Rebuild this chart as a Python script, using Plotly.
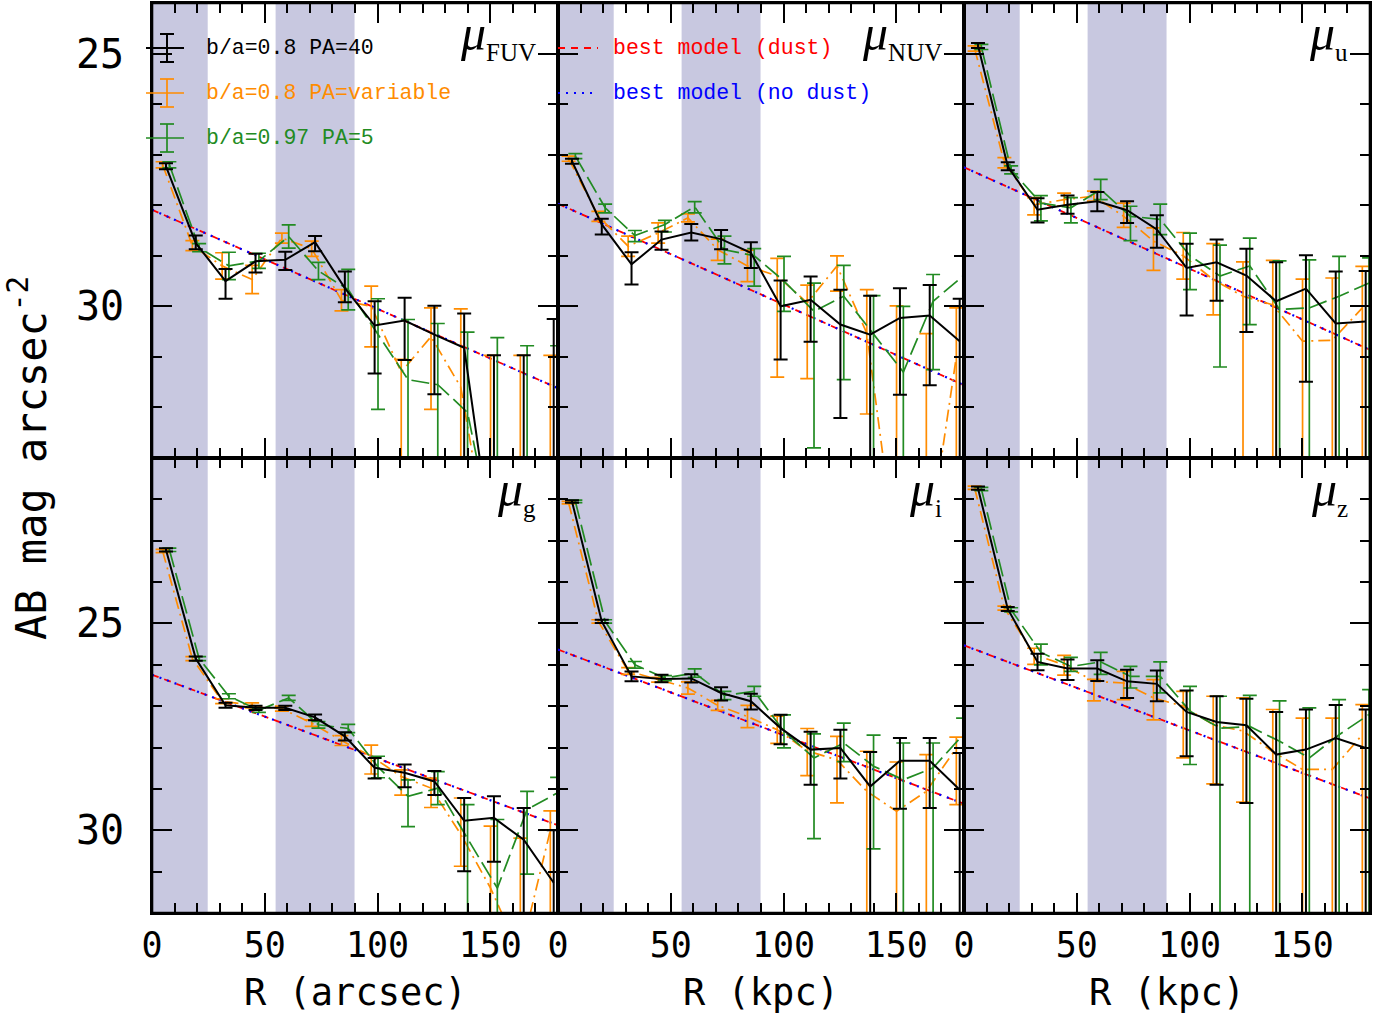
import plotly.graph_objects as go
from plotly.subplots import make_subplots

# ---------------- data ----------------
R = [6.2, 19.4, 32.6, 45.9, 59.1, 72.3, 85.5, 98.7, 112.0, 125.2, 138.4, 151.6, 164.8, 178.1]
R_OFFSET_VAR = -1.5   # orange profile points are plotted slightly left
R_OFFSET_097 = 1.5    # green profile points are plotted slightly right
MODEL_R = [0, 180]
SHADE_R = [[0, 24.7], [54.8, 89.8]]

series_names = ["b/a=0.8 PA=40", "b/a=0.8 PA=variable", "b/a=0.97 PA=5"]
model_names = ["best model (dust)", "best model (no dust)"]
bands = ["FUV", "NUV", "u", "g", "i", "z"]
x_titles = ["R (arcsec)", "R (kpc)", "R (kpc)"]
y_title = "AB mag arcsec<sup>-2</sup>"
x_tickvals = [0, 50, 100, 150]
y_tickvals = [25, 30]

# a = b/a=0.8 PA=40 (black), b = b/a=0.8 PA=variable (orange), c = b/a=0.97 PA=5 (green)
# *_up : error towards brighter values, *_dn : error towards fainter values
fuv_a = [27.23, 28.75, 29.50, 29.11, 29.08, 28.73, 29.64, 30.38, 30.28, 30.56, 30.82, 35.0, 35.0, 35.0]
fuv_a_up = [0.06, 0.15, 0.24, 0.15, 0.16, 0.12, 0.33, 0.48, 0.45, 0.57, 0.68, 4.03, 4.03, 4.75]
fuv_a_dn = [0.06, 0.12, 0.35, 0.22, 0.20, 0.18, 0.28, 0.95, 0.78, 1.18, 9.0, 0.0, 0.0, 0.0]
fuv_b = [27.20, 28.80, 29.20, 29.47, 28.65, 28.86, 29.88, 30.00, 31.30, 30.60, 31.60, 35.0, 35.0, 35.0]
fuv_b_up = [0.06, 0.10, 0.26, 0.28, 0.10, 0.15, 0.21, 0.40, 0.25, 0.57, 1.55, 4.03, 4.03, 4.03]
fuv_b_dn = [0.06, 0.10, 0.26, 0.28, 0.10, 0.15, 0.21, 0.80, 9.0, 1.44, 9.0, 0.0, 0.0, 0.0]
fuv_c = [27.20, 28.84, 29.20, 29.10, 28.62, 29.30, 29.67, 30.55, 31.45, 31.55, 32.10, 35.0, 35.0, 35.0]
fuv_c_up = [0.06, 0.08, 0.27, 0.15, 0.23, 0.17, 0.40, 0.70, 1.19, 1.21, 1.59, 4.38, 4.22, 4.22]
fuv_c_dn = [0.06, 0.08, 0.27, 0.15, 0.23, 0.17, 0.40, 1.49, 9.0, 9.0, 9.0, 0.0, 0.0, 0.0]
fuv_dust = [28.09, 31.62]
fuv_nodust = [28.09, 31.62]

nuv_a = [27.13, 28.38, 29.17, 28.68, 28.54, 28.67, 28.94, 30.00, 29.87, 30.36, 30.56, 30.23, 30.18, 30.69]
nuv_a_up = [0.05, 0.11, 0.24, 0.16, 0.17, 0.18, 0.21, 0.51, 0.46, 0.69, 0.77, 0.59, 0.60, 0.84]
nuv_a_dn = [0.05, 0.20, 0.40, 0.20, 0.16, 0.20, 0.30, 1.05, 0.83, 1.85, 9.0, 1.52, 1.38, 9.0]
nuv_b = [27.08, 28.22, 28.81, 28.55, 28.25, 28.88, 29.20, 29.40, 29.93, 29.20, 30.53, 35.0, 35.0, 31.00]
nuv_b_up = [0.05, 0.10, 0.20, 0.20, 0.08, 0.21, 0.31, 0.35, 0.35, 0.20, 0.86, 5.01, 4.46, 0.97]
nuv_b_dn = [0.05, 0.10, 0.20, 0.20, 0.08, 0.21, 0.31, 2.00, 1.50, 0.50, 1.60, 0.0, 0.0, 9.0]
nuv_c = [27.03, 28.05, 28.60, 28.38, 28.03, 28.88, 29.00, 29.50, 30.10, 29.80, 30.55, 31.30, 29.90, 29.40]
nuv_c_up = [0.05, 0.07, 0.10, 0.08, 0.10, 0.27, 0.14, 0.49, 0.56, 0.61, 0.76, 1.30, 0.53, 0.40]
nuv_c_dn = [0.05, 0.10, 0.12, 0.15, 0.12, 0.28, 0.60, 0.60, 2.70, 1.65, 9.0, 9.0, 1.35, 9.0]
nuv_dust = [27.97, 31.56]
nuv_nodust = [27.97, 31.56]

u_a = [24.84, 27.23, 28.09, 27.99, 27.92, 28.10, 28.48, 29.24, 29.13, 29.39, 29.90, 29.65, 30.34, 30.30]
u_a_up = [0.05, 0.08, 0.23, 0.18, 0.18, 0.18, 0.28, 0.48, 0.45, 0.53, 0.77, 0.66, 1.03, 1.00]
u_a_dn = [0.05, 0.08, 0.25, 0.18, 0.20, 0.25, 0.36, 0.94, 0.76, 1.12, 9.0, 1.84, 9.0, 9.0]
u_b = [24.90, 27.16, 27.99, 27.89, 27.82, 28.22, 28.71, 29.00, 29.47, 29.80, 29.97, 30.69, 30.67, 30.03]
u_b_up = [0.05, 0.10, 0.14, 0.13, 0.10, 0.26, 0.26, 0.46, 0.71, 0.68, 0.88, 1.23, 1.23, 0.82]
u_b_dn = [0.05, 0.10, 0.20, 0.12, 0.10, 0.22, 0.58, 0.46, 0.70, 9.0, 9.0, 9.0, 9.0, 9.0]
u_c = [24.87, 27.30, 27.96, 28.05, 27.69, 28.22, 28.28, 29.00, 29.40, 29.20, 30.06, 30.03, 29.80, 29.54]
u_c_up = [0.05, 0.08, 0.15, 0.20, 0.20, 0.20, 0.30, 0.45, 0.61, 0.55, 0.96, 0.95, 0.79, 0.50]
u_c_dn = [0.05, 0.08, 0.35, 0.30, 0.20, 0.48, 0.30, 0.67, 1.80, 1.16, 9.0, 9.0, 9.0, 9.0]
u_dust = [27.25, 30.86]
u_nodust = [27.25, 30.86]

g_a = [23.22, 25.85, 26.98, 27.04, 27.04, 27.27, 27.73, 28.49, 28.61, 28.82, 29.77, 29.70, 30.23, 31.27]
g_a_up = [0.04, 0.05, 0.06, 0.05, 0.05, 0.07, 0.10, 0.24, 0.20, 0.25, 0.55, 0.52, 0.77, 1.27]
g_a_dn = [0.04, 0.05, 0.06, 0.05, 0.05, 0.07, 0.10, 0.26, 0.35, 0.33, 1.22, 1.06, 9.0, 9.0]
g_b = [23.25, 25.85, 26.88, 26.98, 27.06, 27.41, 27.83, 28.21, 28.70, 28.98, 30.10, 31.40, 33.00, 30.00]
g_b_up = [0.04, 0.05, 0.06, 0.06, 0.06, 0.08, 0.12, 0.27, 0.16, 0.24, 0.88, 1.50, 2.81, 0.47]
g_b_dn = [0.04, 0.05, 0.06, 0.06, 0.06, 0.08, 0.12, 0.43, 0.45, 0.47, 0.77, 9.0, 0.0, 9.0]
g_c = [23.22, 25.85, 26.76, 27.10, 26.80, 27.45, 27.54, 28.47, 29.18, 28.98, 30.20, 31.40, 29.50, 29.10]
g_c_up = [0.04, 0.05, 0.06, 0.05, 0.06, 0.08, 0.10, 0.26, 0.40, 0.40, 0.82, 1.66, 0.44, 0.38]
g_c_dn = [0.04, 0.05, 0.06, 0.05, 0.06, 0.08, 0.10, 0.26, 0.73, 0.40, 9.0, 9.0, 1.56, 9.0]
g_dust = [26.24, 29.88]
g_nodust = [26.24, 29.88]

i_a = [22.05, 24.95, 26.28, 26.34, 26.33, 26.68, 26.88, 27.53, 28.05, 28.01, 28.94, 28.32, 28.32, 29.02]
i_a_up = [0.03, 0.04, 0.12, 0.10, 0.10, 0.14, 0.18, 0.32, 0.43, 0.44, 0.83, 0.55, 0.55, 0.89]
i_a_dn = [0.03, 0.04, 0.12, 0.08, 0.10, 0.18, 0.20, 0.39, 0.85, 0.74, 9.0, 1.16, 1.14, 9.0]
i_b = [22.08, 24.95, 26.15, 26.36, 26.56, 26.98, 27.25, 27.57, 28.08, 28.30, 29.06, 29.54, 29.06, 28.01]
i_b_up = [0.03, 0.04, 0.08, 0.06, 0.15, 0.12, 0.27, 0.33, 0.54, 0.57, 0.97, 1.19, 0.89, 0.26]
i_b_dn = [0.03, 0.04, 0.08, 0.06, 0.15, 0.12, 0.27, 0.33, 0.60, 1.04, 9.0, 9.0, 9.0, 1.37]
i_c = [22.05, 24.95, 26.00, 26.32, 26.20, 26.74, 26.64, 27.61, 28.25, 27.89, 28.45, 28.78, 28.49, 27.69]
i_c_up = [0.03, 0.04, 0.08, 0.06, 0.10, 0.10, 0.12, 0.40, 0.58, 0.48, 0.75, 0.89, 0.60, 0.40]
i_c_dn = [0.03, 0.04, 0.08, 0.06, 0.10, 0.10, 0.12, 0.40, 1.95, 0.45, 2.00, 9.0, 9.0, 9.0]
i_dust = [25.63, 29.36]
i_nodust = [25.63, 29.36]

z_a = [21.73, 24.65, 25.93, 26.09, 26.09, 26.40, 26.46, 27.14, 27.38, 27.46, 28.17, 28.05, 27.77, 28.01]
z_a_up = [0.04, 0.05, 0.20, 0.22, 0.20, 0.28, 0.32, 0.52, 0.62, 0.64, 1.03, 0.97, 0.80, 0.93]
z_a_dn = [0.04, 0.05, 0.20, 0.28, 0.30, 0.40, 0.42, 1.07, 1.52, 1.88, 9.0, 9.0, 9.0, 9.0]
z_b = [21.72, 24.63, 25.75, 26.00, 26.40, 26.44, 26.80, 27.00, 27.45, 27.60, 28.10, 28.53, 28.53, 27.69]
z_b_up = [0.04, 0.05, 0.15, 0.23, 0.05, 0.28, 0.44, 0.36, 0.69, 0.80, 1.02, 1.24, 1.24, 0.73]
z_b_dn = [0.04, 0.05, 0.24, 0.25, 0.47, 0.40, 0.53, 1.25, 1.43, 1.72, 9.0, 9.0, 9.0, 9.0]
z_c = [21.75, 24.67, 25.70, 26.04, 25.93, 26.28, 26.28, 27.12, 27.53, 27.49, 27.85, 28.25, 27.69, 27.20]
z_c_up = [0.04, 0.05, 0.20, 0.22, 0.23, 0.24, 0.35, 0.60, 0.77, 0.75, 0.98, 1.21, 0.85, 0.60]
z_c_dn = [0.04, 0.05, 0.30, 0.12, 0.30, 0.28, 0.40, 1.29, 9.0, 9.0, 9.0, 9.0, 9.0, 9.0]
z_dust = [25.53, 29.23]
z_nodust = [25.53, 29.23]

Y_RANGE_TOP = [33, 24]
Y_RANGE_BOTTOM = [32, 21]

# ---------------- styling ----------------
BLACK = "black"
ORANGE = "rgb(255,140,0)"
GREEN = "rgb(34,139,34)"
SHADE = "rgb(200,200,224)"
MONO = "DejaVu Sans Mono"
LEG_FONT = "Liberation Mono"

W, H = 1392, 1021
ML, MR, MT, MB = 152, 22, 3, 108
PW = (W - ML - MR) / 3.0
PH = (H - MT - MB) / 2.0

panels = [
    (1, 1, bands[0], (fuv_a, fuv_a_up, fuv_a_dn), (fuv_b, fuv_b_up, fuv_b_dn), (fuv_c, fuv_c_up, fuv_c_dn), fuv_dust, fuv_nodust),
    (1, 2, bands[1], (nuv_a, nuv_a_up, nuv_a_dn), (nuv_b, nuv_b_up, nuv_b_dn), (nuv_c, nuv_c_up, nuv_c_dn), nuv_dust, nuv_nodust),
    (1, 3, bands[2], (u_a, u_a_up, u_a_dn), (u_b, u_b_up, u_b_dn), (u_c, u_c_up, u_c_dn), u_dust, u_nodust),
    (2, 1, bands[3], (g_a, g_a_up, g_a_dn), (g_b, g_b_up, g_b_dn), (g_c, g_c_up, g_c_dn), g_dust, g_nodust),
    (2, 2, bands[4], (i_a, i_a_up, i_a_dn), (i_b, i_b_up, i_b_dn), (i_c, i_c_up, i_c_dn), i_dust, i_nodust),
    (2, 3, bands[5], (z_a, z_a_up, z_a_dn), (z_b, z_b_up, z_b_dn), (z_c, z_c_up, z_c_dn), z_dust, z_nodust),
]

fig = make_subplots(rows=2, cols=3, horizontal_spacing=0, vertical_spacing=0)


def axis_ids(row, col):
    k = (row - 1) * 3 + col
    s = "" if k == 1 else str(k)
    return "x" + s, "y" + s


def dom_x(px):
    return px / PW


def dom_y(py):
    return 1 - py / PH


shapes = []
annotations = []

DASH_RED = "7px,6px"
DASH_BLUE = "2px,6px"
DASH_ORANGE = "12px,5px,2px,5px"
DASH_GREEN = "18px,6px"

for row, col, band, sa, sb, sc, mdust, mnodust in panels:
    xr, yr = axis_ids(row, col)
    for x0, x1 in SHADE_R:
        shapes.append(dict(type="rect", xref=xr, yref=yr + " domain", x0=x0, x1=x1, y0=0, y1=1,
                           fillcolor=SHADE, line=dict(width=0), layer="below"))
    fig.add_trace(go.Scatter(x=MODEL_R, y=mdust, mode="lines", line=dict(color="red", width=1.8, dash=DASH_RED),
                             name=model_names[0]), row=row, col=col)
    fig.add_trace(go.Scatter(x=MODEL_R, y=mnodust, mode="lines", line=dict(color="blue", width=2.2, dash=DASH_BLUE),
                             name=model_names[1]), row=row, col=col)
    for (vals, up, dn), color, dash, off, width, name in [
        (sb, ORANGE, DASH_ORANGE, R_OFFSET_VAR, 1.7, series_names[1]),
        (sc, GREEN, DASH_GREEN, R_OFFSET_097, 1.7, series_names[2]),
        (sa, BLACK, "solid", 0.0, 2.0, series_names[0]),
    ]:
        fig.add_trace(go.Scatter(
            x=[r + off for r in R], y=vals, mode="lines", name=name,
            line=dict(color=color, width=width, dash=dash),
            error_y=dict(type="data", symmetric=False, array=dn, arrayminus=up,
                         color=color, thickness=width, width=7),
        ), row=row, col=col)

    ytop = 0 if row == 1 else 1
    annotations.append(dict(
        xref=xr + " domain", yref=yr + " domain", x=dom_x(PW - 20), y=dom_y(ytop),
        xanchor="right", yanchor="top", showarrow=False,
        text="<i>\u03bc</i><sub><span style='font-size:25px'>%s</span></sub>" % band,
        font=dict(family="Liberation Serif", size=50, color="black"),
    ))

for row in (1, 2):
    for col in (1, 2, 3):
        fig.update_xaxes(
            row=row, col=col, range=[0, 180], tickmode="array", tickvals=x_tickvals,
            ticks="inside", ticklen=20, tickwidth=2, tickcolor="black",
            showline=True, linewidth=1.6, linecolor="black", mirror="allticks",
            minor=dict(dtick=10, tick0=0, ticks="inside", ticklen=10, tickwidth=2, tickcolor="black"),
            showgrid=False, zeroline=False, showticklabels=(row == 2),
            tickfont=dict(family=MONO, size=35, color="black"), ticklabelstandoff=0,
        )
        fig.update_yaxes(
            row=row, col=col, range=(Y_RANGE_TOP if row == 1 else Y_RANGE_BOTTOM),
            tickmode="array", tickvals=y_tickvals,
            ticks="inside", ticklen=20, tickwidth=2, tickcolor="black",
            showline=True, linewidth=1.6, linecolor="black", mirror="allticks",
            minor=dict(dtick=1, tick0=0, ticks="inside", ticklen=10, tickwidth=2, tickcolor="black"),
            showgrid=False, zeroline=False, showticklabels=(col == 1),
            tickfont=dict(family=MONO, size=40, color="black"), ticklabelstandoff=18,
        )

# outer frame
shapes.append(dict(type="rect", xref="paper", yref="paper", x0=0, x1=1, y0=0, y1=1,
                   line=dict(color="black", width=2.6), layer="above"))

# legend 1 (profiles) inside the FUV panel
leg_rows = [(45, BLACK, 2.0, series_names[0]), (90, ORANGE, 1.7, series_names[1]), (135, GREEN, 1.7, series_names[2])]
for py, color, lw, name in leg_rows:
    shapes.append(dict(type="line", xref="x domain", yref="y domain", x0=dom_x(-6), x1=dom_x(32),
                       y0=dom_y(py), y1=dom_y(py), line=dict(color=color, width=lw)))
    shapes.append(dict(type="line", xref="x domain", yref="y domain", x0=dom_x(15), x1=dom_x(15),
                       y0=dom_y(py - 14), y1=dom_y(py + 14), line=dict(color=color, width=lw)))
    for cy in (py - 14, py + 14):
        shapes.append(dict(type="line", xref="x domain", yref="y domain", x0=dom_x(8), x1=dom_x(22),
                           y0=dom_y(cy), y1=dom_y(cy), line=dict(color=color, width=lw)))
    annotations.append(dict(xref="x domain", yref="y domain", x=dom_x(52), y=dom_y(py), xanchor="left",
                            yanchor="middle", showarrow=False, text=name,
                            font=dict(family=LEG_FONT, size=21.5, color=color)))

# legend 2 (models) inside the NUV panel
for py, color, dash, lw, name in [(45, "red", DASH_RED, 1.8, model_names[0]), (90, "blue", DASH_BLUE, 2.2, model_names[1])]:
    shapes.append(dict(type="line", xref="x2 domain", yref="y2 domain", x0=dom_x(0), x1=dom_x(40),
                       y0=dom_y(py), y1=dom_y(py), line=dict(color=color, width=lw, dash=dash)))
    annotations.append(dict(xref="x2 domain", yref="y2 domain", x=dom_x(53), y=dom_y(py), xanchor="left",
                            yanchor="middle", showarrow=False, text=name,
                            font=dict(family=LEG_FONT, size=21.5, color=color)))

# axis titles
PLOT_H = H - MT - MB
PLOT_W = W - ML - MR
for col in (1, 2, 3):
    xr, _ = axis_ids(2, col)
    annotations.append(dict(xref=xr + " domain", yref="paper", x=0.5, y=-(993 - (H - MB)) / PLOT_H,
                            xanchor="center", yanchor="middle",
                            showarrow=False, text=x_titles[col - 1],
                            font=dict(family=MONO, size=37, color="black")))
annotations.append(dict(xref="paper", yref="paper", x=(28 - ML) / PLOT_W, y=0.5, xanchor="center", yanchor="middle",
                        showarrow=False, text=y_title, textangle=-90,
                        font=dict(family=MONO, size=42, color="black")))

fig.update_layout(
    width=W, height=H, margin=dict(l=ML, r=MR, t=MT, b=MB, autoexpand=False),
    plot_bgcolor="white", paper_bgcolor="white", showlegend=False,
    shapes=shapes, annotations=annotations,
)

fig.write_html("out.html", config={"displayModeBar": False},
               post_script="document.body.style.margin='0px';document.body.style.overflow='hidden';")
